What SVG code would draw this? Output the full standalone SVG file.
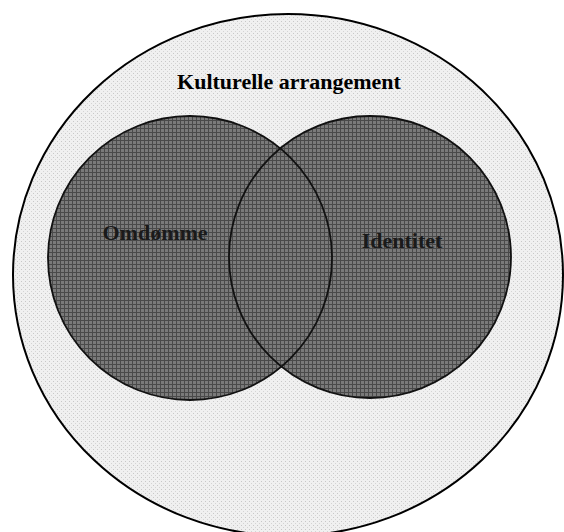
<svg xmlns="http://www.w3.org/2000/svg" width="564" height="532" viewBox="0 0 564 532">
  <defs>
    <pattern id="hatch" width="4" height="4" patternUnits="userSpaceOnUse">
      <rect width="4" height="4" fill="#7a7a7a"/>
      <rect x="0" y="0" width="4" height="1" fill="#4a4a4a"/>
      <rect x="0" y="0" width="1" height="4" fill="#4a4a4a"/>
    </pattern>
    <pattern id="stipple" width="4" height="4" patternUnits="userSpaceOnUse">
      <rect width="4" height="4" fill="#f0f0f0"/>
      <rect x="1" y="1" width="1" height="1" fill="#c8c8c8"/>
      <rect x="3" y="3" width="1" height="1" fill="#d4d4d4"/>
    </pattern>
  </defs>
  <style>
    .outer { fill: url(#stipple); stroke: #000; stroke-width: 2; }
    .set { fill: url(#hatch); }
    .rim { fill: none; stroke: #111; stroke-width: 1.8; }
    .title { font-family: "Liberation Serif", "Times New Roman", serif; font-weight: bold; font-size: 22px; fill: #000; }
    .label { font-family: "Liberation Serif", "Times New Roman", serif; font-weight: bold; font-size: 22px; fill: #1a1a1a; }
  </style>
  <rect width="564" height="532" fill="#fff"/>
  <g id="kulturelle-arrangement">
    <ellipse class="outer" cx="288" cy="275" rx="275" ry="261"/>
    <text class="title" x="289" y="89" text-anchor="middle">Kulturelle arrangement</text>
  </g>
  <g id="omdomme">
    <circle class="set" cx="190" cy="258" r="142"/>
  </g>
  <g id="identitet">
    <circle class="set" cx="370" cy="257" r="141"/>
  </g>
  <g id="outlines">
    <circle class="rim" cx="190" cy="258" r="142"/>
    <circle class="rim" cx="370" cy="257" r="141"/>
  </g>
  <g id="labels">
    <text class="label" x="155" y="240" text-anchor="middle">Omdømme</text>
    <text class="label" x="402" y="248" text-anchor="middle">Identitet</text>
  </g>
</svg>
